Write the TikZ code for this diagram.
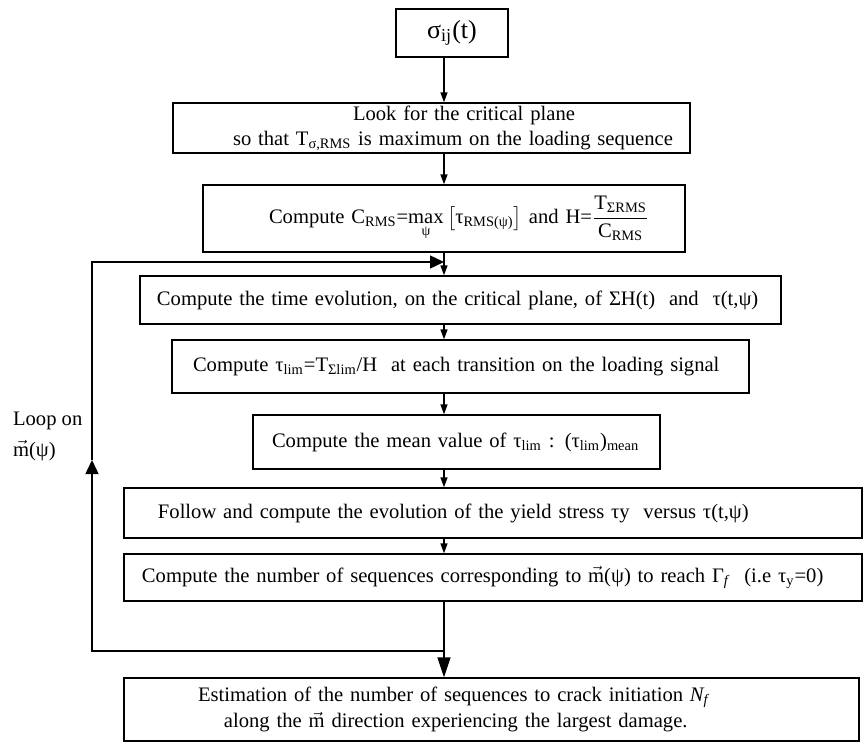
\documentclass[tikz,border=0pt]{standalone}
\usepackage{fontspec}
\setmainfont{Liberation Serif}
\usetikzlibrary{arrows.meta}

\tikzset{
  stage/.style={draw, line width=0.7pt, inner xsep=0pt, inner ysep=0pt,
    align=left, font=\fontsize{10.3}{12.5}\selectfont},
  flow/.style={line width=0.7pt, -{Triangle[width=3.5pt,length=5pt]}},
  loopflow/.style={line width=0.7pt, -{Triangle[width=6.5pt,length=7pt]}},
  endflow/.style={line width=0.7pt, -{Triangle[width=6.5pt,length=10pt]}},
}
\newcommand{\mvec}{$\vec{\hbox{m}}$}

\begin{document}
\begin{tikzpicture}[x=0.5pt,y=-0.5pt]
    \useasboundingbox (0,0) rectangle (863,744);

    % Steps of the method
    \node[stage, text width=56pt, minimum height=24pt, align=center,
          font=\fontsize{13}{15}\selectfont] (sigma) at (452,33)
        {σ\textsubscript{ij}(t)};
    \node[stage, text width=258.5pt, minimum height=25pt] (look) at (431.5,128)
        {\hspace*{90pt}\mbox{Look for the critical plane}\\
         \hspace*{30pt}\mbox{so that T\textsubscript{σ,RMS} is maximum on the loading sequence}};
    \node[stage, text width=241pt, minimum height=33.5pt] (crms) at (444,218.5)
        {\hspace*{33pt}\mbox{Compute C\textsubscript{RMS}=$\mathop{\hbox{max}}\limits_{\hbox{\scriptsize ψ}}\left[\hbox{τ\textsubscript{RMS(ψ)}}\right]$ and H=$\displaystyle\frac{\hbox{T\textsubscript{ΣRMS}}}{\hbox{C\textsubscript{RMS}}}$}};
    \node[stage, text width=320.5pt, minimum height=24pt] (evol) at (460.5,300)
        {\hspace*{8.5pt}\mbox{Compute the time evolution, on the critical plane, of ΣH(t)\ \ and\ \ τ(t,ψ)}};
    \node[stage, text width=288.5pt, minimum height=26.5pt] (tlim) at (460.5,366.5)
        {\hspace*{10.5pt}\mbox{Compute\ τ\textsubscript{lim}=T\textsubscript{Σlim}/H\ \ at each transition on the loading signal}};
    \node[stage, text width=203.5pt, minimum height=27pt] (mean) at (456.5,442)
        {\hspace*{9.5pt}\mbox{Compute the mean value of\ τ\textsubscript{lim} : (τ\textsubscript{lim})\textsubscript{mean}}};
    \node[stage, text width=369pt, minimum height=25pt] (yield) at (493,513)
        {\hspace*{17pt}\mbox{Follow and compute the evolution of the yield stress\ τy\ \ versus\ τ(t,ψ)}};
    \node[stage, text width=369pt, minimum height=23.5pt] (nseq) at (493,577.5)
        {\hspace*{9pt}\mbox{Compute the number of sequences corresponding to \mvec(ψ)\ to reach\ Γ\textsubscript{\textit{f}}\ \ (i.e\ τ\textsubscript{y}=0)}};
    \node[stage, text width=367.5pt, minimum height=31.5pt,
          font=\fontsize{10.3}{13}\selectfont] (est) at (491.5,709.5)
        {\hspace*{37pt}\mbox{Estimation of the number of sequences to crack initiation \textit{N\textsubscript{f}}}\\
         \hspace*{50pt}\mbox{along the \mvec\ direction experiencing the largest damage.}};

    % Loop label
    \node[font=\fontsize{10.3}{15.5}\selectfont, align=left, anchor=west] (looplbl) at (6,436)
        {Loop on\\ \mvec(ψ)};

    % Main line
    \coordinate (axis) at (444,0);
    \draw[flow] (axis |- sigma.south) -- (axis |- look.north);
    \draw[flow] (axis |- look.south) -- (axis |- crms.north);
    \draw[flow] (axis |- crms.south) -- (axis |- evol.north);
    \draw[flow] (axis |- evol.south) -- (axis |- tlim.north);
    \draw[flow] (axis |- tlim.south) -- (axis |- mean.north);
    \draw[flow] (axis |- mean.south) -- (axis |- yield.north);
    \draw[flow] (axis |- yield.south) -- (axis |- nseq.north);
    \draw[endflow] (axis |- nseq.south) -- (axis |- est.north);

    % Loop back
    \coordinate (ltop) at (92,262);
    \coordinate (lbot) at (92,651);
    \coordinate (lmid) at (92,460);
    \draw[loopflow] (axis |- lbot) -- (lbot) -- (lmid);
    \draw[loopflow] (lmid) -- (ltop) -- (axis |- ltop);
\end{tikzpicture}
\end{document}
